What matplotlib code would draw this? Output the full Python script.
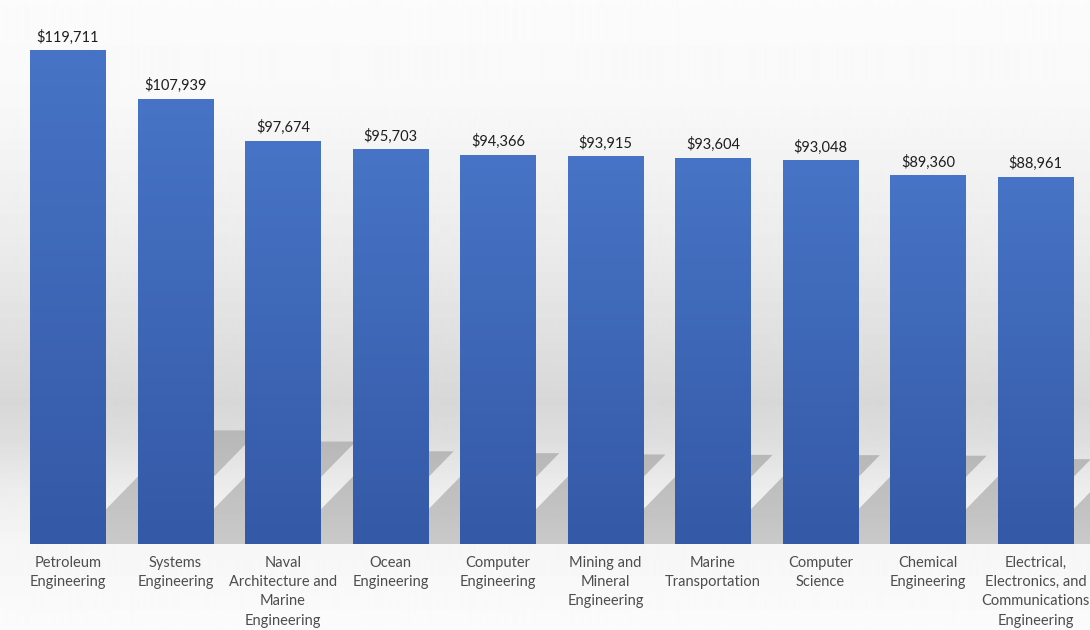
import numpy as np
import matplotlib.pyplot as plt
from matplotlib.patches import Polygon
from matplotlib.colors import LinearSegmentedColormap

plt.rcParams['font.family'] = ['Lato', 'DejaVu Sans']

# Median salary by engineering major
majors = ['Petroleum\nEngineering', 'Systems\nEngineering',
          'Naval\nArchitecture and\nMarine\nEngineering', 'Ocean\nEngineering',
          'Computer\nEngineering', 'Mining and\nMineral\nEngineering',
          'Marine\nTransportation', 'Computer\nScience',
          'Chemical\nEngineering',
          'Electrical,\nElectronics, and\nCommunications\nEngineering']
salaries = [119711, 107939, 97674, 95703, 94366, 93915, 93604, 93048, 89360, 88961]
labels = ['$119,711', '$107,939', '$97,674', '$95,703', '$94,366',
          '$93,915', '$93,604', '$93,048', '$89,360', '$88,961']

x = np.arange(len(salaries))
bar_w = 0.707

fig = plt.figure(figsize=(10.9, 6.3), dpi=100)
ax = fig.add_axes([0, 0, 1, 1])
xlim = (-0.633, 9.507)
ylim = (-20840, 131824)
ax.set_xlim(*xlim)
ax.set_ylim(*ylim)
ax.axis('off')

# wall + floor backdrop: white at the top, grey horizon, pale floor
rows = np.linspace(0, 1, 630)  # 0 = top of figure
shade = np.interp(rows, [0, 0.16, 0.4, 0.64, 0.70, 0.78, 0.865, 1.0],
                  [0.985, 0.975, 0.92, 0.845, 0.87, 0.93, 0.965, 0.985])
bg = np.repeat(shade[:, None], 2, axis=1)
ax.imshow(bg, cmap='gray', vmin=0, vmax=1, aspect='auto',
          extent=[xlim[0], xlim[1], ylim[0], ylim[1]], zorder=0)

# cast shadows, sheared up and to the right behind each bar
px_per_unit = 494 / 119711
px_per_cat = 107.5
shadow_grad = np.linspace(0.72, 0.79, 64)[:, None]  # darker at the far end
for xi, v in zip(x, salaries):
    h_px = v * px_per_unit
    rise = 0.23 * v
    shift = 0.225 * h_px / px_per_cat
    x0 = xi - bar_w / 2 + 0.39
    x1 = xi + bar_w / 2 + 0.39
    pts = [(x0, 0), (x1, 0), (x1 + shift, rise), (x0 + shift, rise)]
    poly = Polygon(pts, closed=True, facecolor='none', edgecolor='none')
    ax.add_patch(poly)
    sh = ax.imshow(shadow_grad, cmap='gray', vmin=0, vmax=1, aspect='auto',
                   extent=[x0, x1 + shift, 0, rise], zorder=1)
    sh.set_clip_path(poly)

# bars with a vertical blue gradient
bars = ax.bar(x, salaries, width=bar_w, color='none', zorder=2)
blue = LinearSegmentedColormap.from_list('blue', ['#3459a6', '#4774c6'])
grad = np.linspace(1, 0, 256)[:, None]
for b in bars:
    bx, by = b.get_x(), b.get_y()
    im = ax.imshow(grad, cmap=blue, aspect='auto', zorder=2,
                   extent=[bx, bx + b.get_width(), by, by + b.get_height()])
    im.set_clip_path(b)

# restore limits after the image calls
ax.set_xlim(*xlim)
ax.set_ylim(*ylim)

# value labels above bars
for xi, v, t in zip(x, salaries, labels):
    ax.annotate(t, (xi, v), xytext=(0, 4), textcoords='offset points',
                ha='center', va='bottom', fontsize=10.5, color='#1e1e1e',
                zorder=3)

# category labels under the bars
for xi, name in zip(x, majors):
    ax.annotate(name, (xi, 0), xytext=(0, -8.5), textcoords='offset points',
                ha='center', va='top', fontsize=10.5, color='#4d4d4d',
                linespacing=1.48, zorder=3)

plt.savefig('out.png', dpi=100)
